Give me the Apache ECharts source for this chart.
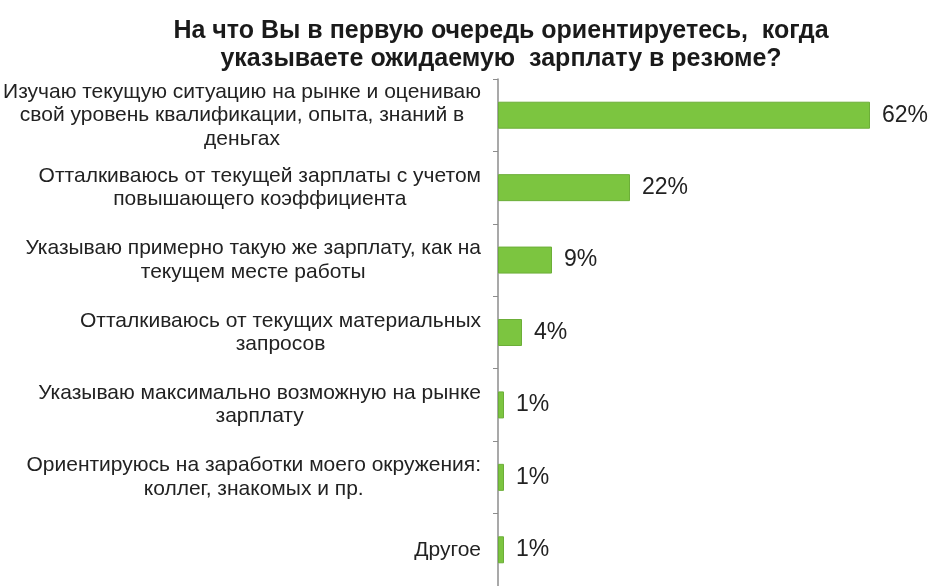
<!DOCTYPE html>
<html>
<head>
<meta charset="utf-8">
<script src="https://cdn.jsdelivr.net/npm/echarts@6/dist/echarts.min.js"></script>
<style>
  html, body { margin: 0; padding: 0; background: #fff; }
  #main { width: 944px; height: 586px; }
</style>
</head>
<body>
<div id="main"></div>
<script>
var categories = [
  'Изучаю текущую ситуацию на рынке и оцениваю\nсвой уровень квалификации, опыта, знаний в\nденьгах',
  'Отталкиваюсь от текущей зарплаты с учетом\nповышающего коэффициента',
  'Указываю примерно такую же зарплату, как на\nтекущем месте работы',
  'Отталкиваюсь от текущих материальных\nзапросов',
  'Указываю максимально возможную на рынке\nзарплату',
  'Ориентируюсь на заработки моего окружения:\nколлег, знакомых и пр.',
  'Другое'
];
var values = [62, 22, 9, 4, 1, 1, 1];

var myChart = echarts.init(document.getElementById('main'));

var option = {
  backgroundColor: '#fff',
  animation: false,
  title: {
    text: 'На что Вы в первую очередь ориентируетесь,  когда\nуказываете ожидаемую  зарплату в резюме?',
    left: 496,
    textAlign: 'center',
    top: 12,
    textStyle: {
      fontFamily: 'Liberation Sans, Arial, sans-serif',
      fontSize: 25,
      fontWeight: 'bold',
      color: '#1a1a1a',
      lineHeight: 28
    }
  },
  grid: {
    left: 498,
    top: 79,
    width: 420,
    height: 511,
    containLabel: false
  },
  xAxis: {
    type: 'value',
    min: 0,
    max: 70,
    show: false
  },
  yAxis: {
    type: 'category',
    inverse: true,
    data: categories,
    axisLine: { lineStyle: { color: '#8c8c8c', width: 1.5 } },
    axisTick: { show: true, length: 5, lineStyle: { color: '#8c8c8c' } },
    axisLabel: {
      margin: 17,
      align: 'right',
      formatter: function (v) {
        // centre each line inside the right-anchored block
        return v.split('\n').map(function (s) { return '{c|' + s + '}'; }).join('\n');
      },
      rich: {
        c: {
          align: 'center',
          fontFamily: 'Liberation Sans, Arial, sans-serif',
          fontSize: 21,
          lineHeight: 23.5,
          color: '#222'
        }
      }
    }
  },
  series: [
    {
      type: 'bar',
      data: values,
      barWidth: 27,
      itemStyle: {
        color: '#7cc540',
        borderColor: '#6cae38',
        borderWidth: 1
      },
      label: {
        show: true,
        position: 'right',
        distance: 12,
        formatter: '{c}%',
        fontFamily: 'Liberation Sans, Arial, sans-serif',
        fontSize: 23,
        color: '#222'
      }
    }
  ]
};

myChart.setOption(option);
</script>
</body>
</html>
